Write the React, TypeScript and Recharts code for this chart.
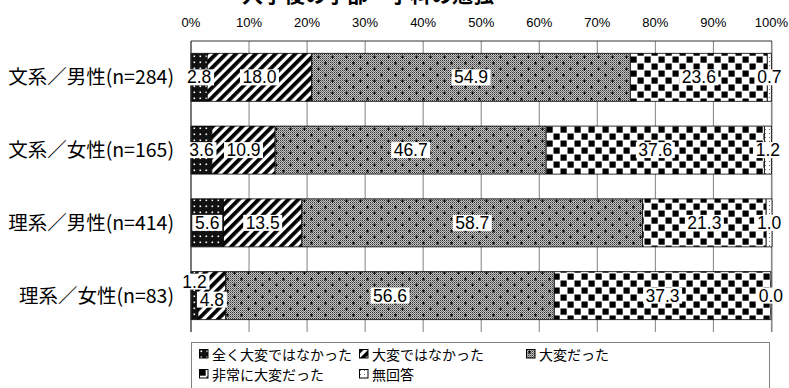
import React from "react";
import { Bar, BarChart, CartesianGrid, LabelList, XAxis, YAxis } from "recharts";

const categories = [
  "文系／男性(n=284)",
  "文系／女性(n=165)",
  "理系／男性(n=414)",
  "理系／女性(n=83)",
];

const seriesNames = [
  "全く大変ではなかった",
  "大変ではなかった",
  "大変だった",
  "非常に大変だった",
  "無回答",
];

const notAtAll = [2.8, 3.6, 5.6, 1.2];
const notHard = [18.0, 10.9, 13.5, 4.8];
const hard = [54.9, 46.7, 58.7, 56.6];
const veryHard = [23.6, 37.6, 21.3, 37.3];
const noAnswer = [0.7, 1.2, 1.0, 0.0];

const percentTicks = [0, 10, 20, 30, 40, 50, 60, 70, 80, 90, 100];

const seriesValues = [notAtAll, notHard, hard, veryHard, noAnswer];
const keys = ["s0", "s1", "s2", "s3", "s4"];
const fills = ["url(#p0)", "url(#p1)", "url(#p2)", "url(#p3)", "url(#p4)"];

const data = categories.map((name, i) => {
  const row: Record<string, string | number> = { name };
  keys.forEach((k, j) => {
    row[k] = seriesValues[j][i];
  });
  return row;
});

// excel pushed the two small labels on the last row apart
const labelNudge: Record<string, number> = { "s0-3": -14, "s1-3": 4 };

const numFont = "'Liberation Sans', Arial, sans-serif";
const jpFont = "'Noto Sans CJK JP', sans-serif";

const drawLabel = (cx: number, cy: number, value: number) => {
  const text = Number(value).toFixed(1);
  const w = text.length * 9 + 3;
  return (
    <g>
      <rect x={cx - w / 2} y={cy - 8} width={w} height={16} fill="#fff" />
      <text
        x={cx}
        y={cy + 6}
        textAnchor="middle"
        fontSize={17.5}
        fontFamily={numFont}
        fill="#000"
      >
        {text}
      </text>
    </g>
  );
};

const makeLabel = (key: string) => (props: any) => {
  const { x, y, width, height, value, index } = props;
  const cx = Number(x) + Number(width) / 2;
  const cy = Number(y) + Number(height) / 2 + (labelNudge[`${key}-${index}`] || 0);
  return drawLabel(cx, cy, value);
};

// a zero-width last segment gets no rectangle, so its label hangs off the previous one
const tailLabel = (props: any) => {
  const { x, y, width, height, value } = props;
  if (Number(value) !== 0) return null;
  return drawLabel(Number(x) + Number(width), Number(y) + Number(height) / 2, value);
};

const Patterns = () => (
  <svg width={0} height={0} style={{ position: "absolute" }}>
    <defs>
      <pattern id="p0" width={6} height={6} patternUnits="userSpaceOnUse">
        <rect width={6} height={6} fill="#111" />
        <rect x={1.5} y={1.5} width={1.6} height={1.6} fill="#fff" />
      </pattern>
      <pattern
        id="p1"
        width={7}
        height={7}
        patternUnits="userSpaceOnUse"
        patternTransform="rotate(45)"
      >
        <rect width={7} height={7} fill="#fff" />
        <rect width={3.8} height={7} fill="#000" />
      </pattern>
      <pattern id="fine" width={2} height={2} patternUnits="userSpaceOnUse">
        <rect width={2} height={2} fill="#c4c4c4" />
        <rect width={1} height={1} fill="#333" />
        <rect x={1} y={1} width={1} height={1} fill="#777" />
      </pattern>
      <pattern id="p2" width={14} height={12} patternUnits="userSpaceOnUse">
        <rect width={14} height={12} fill="url(#fine)" />
        <path d="M2,3h3M3.5,1.5v3M9,9h3M10.5,7.5v3" stroke="#000" strokeWidth={1} />
      </pattern>
      <pattern id="p3" width={14} height={14} patternUnits="userSpaceOnUse">
        <rect width={14} height={14} fill="#fff" />
        <rect x={0.5} y={0.5} width={6.2} height={6.2} fill="#000" />
        <rect x={7.5} y={7.5} width={6.2} height={6.2} fill="#000" />
      </pattern>
      <pattern id="p4" width={4} height={4} patternUnits="userSpaceOnUse">
        <rect width={4} height={4} fill="#fff" />
        <rect x={1} y={1} width={1} height={1} fill="#777" />
      </pattern>
    </defs>
  </svg>
);

const legendCols = [7, 167, 334];

const ChartLegend = () => (
  <div
    style={{
      position: "absolute",
      left: 191,
      top: 342,
      width: 579,
      height: 60,
      border: "1px solid #808080",
      boxSizing: "border-box",
      fontFamily: jpFont,
      fontSize: 14,
      color: "#000",
    }}
  >
    {seriesNames.map((name, i) => (
      <div
        key={name}
        style={{
          position: "absolute",
          left: legendCols[i % 3],
          top: i < 3 ? 1 : 21,
          display: "flex",
          alignItems: "center",
          whiteSpace: "nowrap",
          lineHeight: "20px",
          height: 20,
        }}
      >
        <svg width={11} height={11} style={{ marginRight: 2 }}>
          <rect x={0.5} y={0.5} width={8.5} height={8.5} fill={fills[i]} stroke="#000" />
        </svg>
        {name}
      </div>
    ))}
  </div>
);

const App = () => {
  return (
    <div
      style={{
        position: "absolute",
        left: 0,
        top: 0,
        width: 789,
        height: 388,
        overflow: "hidden",
        background: "#fff",
      }}
    >
      <Patterns />
      <div
        style={{
          position: "absolute",
          left: 240,
          top: -19,
          width: 256,
          textAlign: "center",
          fontFamily: jpFont,
          fontWeight: 700,
          fontSize: 21,
          lineHeight: "24px",
          whiteSpace: "nowrap",
        }}
      >
        入学後の学部・学科の勉強
      </div>
      <BarChart
        width={789}
        height={388}
        data={data}
        layout="vertical"
        margin={{ top: 0, right: 17, bottom: 56, left: 0 }}
        barCategoryGap="17%"
      >
        <CartesianGrid horizontal={false} stroke="#808080" />
        <XAxis
          type="number"
          orientation="top"
          domain={[0, 100]}
          ticks={percentTicks}
          tickFormatter={(v) => `${v}%`}
          height={41}
          tickLine={false}
          tickSize={0}
          tickMargin={14}
          axisLine={{ stroke: "#333" }}
          tick={{ fontSize: 13, fontFamily: numFont, fill: "#000" }}
          interval={0}
        />
        <XAxis
          xAxisId="bottom"
          type="number"
          orientation="bottom"
          domain={[0, 100]}
          height={0}
          tick={false}
          tickLine={false}
          axisLine={{ stroke: "#808080" }}
        />
        <YAxis
          type="category"
          dataKey="name"
          width={191}
          tickLine={false}
          tickSize={0}
          tickMargin={17}
          axisLine={{ stroke: "#333" }}
          tick={{ fontSize: 19.5, fontFamily: jpFont, fill: "#000" }}
        />
        {keys.map((k, i) => (
          <Bar
            key={k}
            dataKey={k}
            name={seriesNames[i]}
            stackId="a"
            fill={fills[i]}
            stroke="#000"
            strokeWidth={0.8}
            isAnimationActive={false}
          >
            <LabelList dataKey={k} content={makeLabel(k)} />
            {i === keys.length - 2 && (
              <LabelList dataKey={keys[i + 1]} content={tailLabel} />
            )}
          </Bar>
        ))}
      </BarChart>
      <ChartLegend />
    </div>
  );
};

export default App;
